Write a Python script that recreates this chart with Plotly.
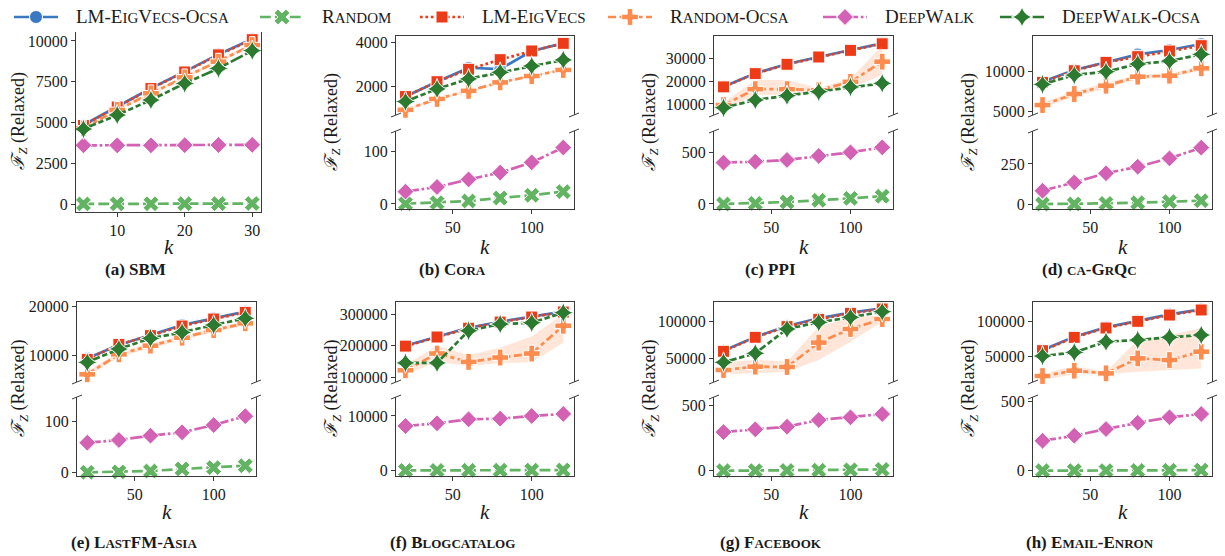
import plotly.graph_objects as go

PAGE_W, PAGE_H = 1225, 556
OFF = 8                      # browser body margin
W, H = PAGE_W - OFF, PAGE_H - OFF
FONT = "Liberation Serif"

# ---------------- data ----------------
K_SBM = [5, 10, 15, 20, 25, 30]
K_REAL = [20, 40, 60, 80, 100, 120]

SERIES = ["LM-EigVecs-Ocsa", "Random", "LM-EigVecs", "Random-Ocsa", "DeepWalk", "DeepWalk-Ocsa"]

SBM = dict(
    lmo=[4850, 5970, 7100, 8120, 9180, 10120],
    rnd=[5, 10, 15, 20, 25, 30],
    lm=[4820, 5950, 7080, 8100, 9150, 10080],
    rndo=[4640, 5770, 6790, 7770, 8730, 9750],
    dw=[3600, 3600, 3600, 3610, 3620, 3630],
    dwo=[4600, 5460, 6380, 7400, 8320, 9410],
    lo=[4550, 5680, 6700, 7680, 8640, 9650],
    hi=[4730, 5860, 6880, 7860, 8820, 9850],
)
CORA = dict(
    lmo=[1530, 2210, 2850, 2790, 3620, 3970],
    rnd=[0.5, 2.5, 5.7, 11.5, 16.6, 23.6],
    lm=[1530, 2210, 2780, 3220, 3620, 3970],
    rndo=[920, 1420, 1790, 2180, 2470, 2750],
    dw=[23.6, 32.5, 47, 60, 79.6, 108],
    dwo=[1300, 1880, 2340, 2640, 2930, 3210],
    lo=[860, 1370, 1740, 2130, 2420, 2700],
    hi=[980, 1470, 1840, 2230, 2520, 2800],
)
PPI = dict(
    lmo=[17590, 23430, 27520, 30730, 33650, 36570],
    rnd=[0, 6, 19, 36, 55, 75],
    lm=[17500, 23300, 27400, 30600, 33500, 36400],
    rndo=[9560, 16500, 16500, 16060, 19700, 28540],
    dw=[403, 412, 429, 468, 503, 552],
    dwo=[8390, 11750, 13650, 15400, 17450, 19050],
    lo=[7400, 14000, 14000, 15000, 17000, 22700],
    hi=[10700, 20500, 20500, 17000, 21200, 35500],
)
GRQC = dict(
    lmo=[8750, 10210, 11170, 12170, 12710, 13460],
    rnd=[0, 0.5, 4, 8, 15, 21],
    lm=[8670, 10120, 11170, 11875, 12580, 13250],
    rndo=[5830, 7210, 8250, 9375, 9500, 10420],
    dw=[83, 135, 192, 233, 285, 352],
    dwo=[8420, 9580, 10000, 10960, 11330, 12170],
    lo=[5500, 6850, 7900, 9100, 9250, 10150],
    hi=[6150, 7550, 8600, 9650, 9750, 10700],
)
LASTFM = dict(
    lmo=[9310, 12070, 14140, 16210, 17590, 18970],
    rnd=[0, 0.7, 2.6, 6.6, 9.2, 13],
    lm=[9100, 12200, 14000, 16000, 17450, 18830],
    rndo=[6000, 10140, 11930, 13580, 15170, 16550],
    dw=[58.5, 63.8, 72.4, 79, 93.4, 111],
    dwo=[8480, 11240, 13450, 14690, 16210, 17590],
    lo=[5500, 9600, 11400, 13100, 14700, 16100],
    hi=[6600, 10600, 12400, 14000, 15600, 17000],
)
BLOG = dict(
    lmo=[200000, 228700, 257400, 276600, 292500, 308500],
    rnd=[40, 55, 70, 85, 100, 120],
    lm=[199000, 228000, 256000, 275500, 291500, 307500],
    rndo=[122300, 175500, 148900, 162800, 175500, 263800],
    dw=[8170, 8660, 9390, 9510, 10000, 10370],
    dwo=[145700, 145700, 247900, 269100, 273400, 305300],
    lo=[107000, 150000, 135000, 145000, 148000, 210000],
    hi=[140000, 200000, 170000, 195000, 230000, 300000],
)
FACEBOOK = dict(
    lmo=[60450, 79090, 94090, 104500, 112300, 118200],
    rnd=[0, 1, 2, 4, 7, 10],
    lm=[59550, 78640, 93200, 103200, 111400, 117300],
    rndo=[34100, 38640, 38200, 71400, 90000, 103600],
    dw=[294, 315, 335, 386, 406, 431],
    dwo=[44550, 56820, 90000, 99100, 105900, 113600],
    lo=[28600, 29500, 31800, 47700, 72700, 100000],
    hi=[44500, 47700, 45500, 93200, 105400, 109000],
)
ENRON = dict(
    lmo=[59500, 78570, 91900, 101400, 110500, 117600],
    rnd=[0, 1, 1, 2, 3, 4],
    lm=[58600, 77600, 91000, 100500, 109500, 116700],
    rndo=[22400, 30000, 26190, 47600, 45240, 57140],
    dw=[215, 251, 299, 344, 383, 407],
    dwo=[50950, 56190, 71430, 73800, 77620, 80950],
    lo=[16700, 24800, 24800, 28600, 31000, 33300],
    hi=[24800, 37140, 28600, 73800, 80950, 90500],
)

KEYS = ["lmo", "rnd", "lm", "rndo", "dw", "dwo"]
TOP_KEYS = ["lmo", "lm", "rndo", "dwo"]
BOT_KEYS = ["rnd", "dw"]

# ---------------- styles ----------------
LW = 2.7
def dash(*p):
    return ",".join(f"{v * LW:.1f}px" for v in p)

STYLE = {
    "lmo": dict(color="#3b78c4", mcolor="#7fa6da", dash="solid", symbol="circle", size=13),
    "rnd": dict(color="#62b462", mcolor="#62b462", dash=dash(4, 1.5), symbol="x", size=14),
    "lm": dict(color="#ee3b17", mcolor="#ee3b17", dash=dash(1, 1), symbol="square", size=12),
    "rndo": dict(color="#fd8c4e", mcolor="#fd8c4e", dash=dash(3, 1.25, 1.5, 1.25), symbol="cross", size=14),
    "dw": dict(color="#d462b4", mcolor="#d462b4", dash=dash(5, 1, 1, 1), symbol="diamond", size=13),
    "dwo": dict(color="#2b7a2f", mcolor="#2b7a2f", dash=dash(5, 1, 2, 1, 2, 1), symbol="star-diamond", size=15),
}
BAND = "rgba(253,140,78,0.22)"
SPINE = "#3a3a3a"
TICKFONT = dict(family=FONT, size=16, color="#1a1a1a")

# ---------------- geometry (page pixels) ----------------
PANELS = [
    dict(tag="(a)", title="SBM", data=SBM, k=K_SBM, x=(76, 261), xr=[3.9, 31.3], xt=[10, 20, 30],
         single=(31, 212), yr=[-490, 10613], yt=[0, 2500, 5000, 7500, 10000], row=0),
    dict(tag="(b)", title="Cora", data=CORA, k=K_REAL, x=(396, 574), xr=[14, 126.8], xt=[50, 100],
         top=(36, 115), bot=(131, 209), ytr=[683, 4307], ytt=[2000, 4000], ybr=[-9.6, 139.6], ybt=[0, 100], row=0),
    dict(tag="(c)", title="PPI", data=PPI, k=K_REAL, x=(714, 893), xr=[14, 126.8], xt=[50, 100],
         top=(36, 115), bot=(131, 209), ytr=[5175, 39800], ytt=[10000, 20000, 30000], ybr=[-49, 711], ybt=[0, 500], row=0),
    dict(tag="(d)", title="ca-GrQc", data=GRQC, k=K_REAL, x=(1033, 1212), xr=[14, 126.8], xt=[50, 100],
         top=(36, 115), bot=(131, 209), ytr=[4590, 14460], ytt=[5000, 10000], ybr=[-31, 456], ybt=[0, 250], row=0),
    dict(tag="(e)", title="LastFM-Asia", data=LASTFM, k=K_REAL, x=(77, 256), xr=[13.5, 126.8], xt=[50, 100],
         top=(302, 382), bot=(397, 476), ytr=[4410, 20973], ytt=[10000, 20000], ybr=[-7.3, 148.8], ybt=[0, 100], row=1),
    dict(tag="(f)", title="Blogcatalog", data=BLOG, k=K_REAL, x=(396, 574), xr=[14, 126.8], xt=[50, 100],
         top=(302, 382), bot=(397, 476), ytr=[85000, 339300], ytt=[100000, 200000, 300000], ybr=[-970, 13470], ybt=[0, 10000], row=1),
    dict(tag="(g)", title="Facebook", data=FACEBOOK, k=K_REAL, x=(714, 893), xr=[14, 126.8], xt=[50, 100],
         top=(302, 382), bot=(397, 476), ytr=[17700, 126800], ytt=[50000, 100000], ybr=[-40, 561], ybt=[0, 500], row=1),
    dict(tag="(h)", title="Email-Enron", data=ENRON, k=K_REAL, x=(1033, 1212), xr=[14, 126.8], xt=[50, 100],
         top=(302, 382), bot=(397, 476), ytr=[13870, 128100], ytt=[50000, 100000], ybr=[-38, 529], ybt=[0, 500], row=1),
]

def px(x):
    return (x - OFF) / W

def py(y):
    return 1 - (y - OFF) / H

def sc(word, small):
    out, run = "", ""
    for ch in word:
        if ch.islower():
            run += ch.upper()
        else:
            if run:
                out += f"<span style='font-size:{small}px'>{run}</span>"
                run = ""
            out += ch
    if run:
        out += f"<span style='font-size:{small}px'>{run}</span>"
    return out

fig = go.Figure()
layout = {}
shapes = []
annotations = []
ax_n = [0]

def new_axes():
    ax_n[0] += 1
    n = ax_n[0]
    s = "" if n == 1 else str(n)
    return n, f"x{s}", f"y{s}", f"xaxis{s}", f"yaxis{s}"

def add_series(xr, yr, k, d, key):
    st = STYLE[key]
    if key == "rndo":
        fig.add_trace(go.Scatter(x=list(k) + list(k)[::-1], y=d["hi"] + d["lo"][::-1], fill="toself",
                                 fillcolor=BAND, line=dict(width=0), mode="lines", xaxis=xr, yaxis=yr,
                                 showlegend=False, hoverinfo="skip"))
    fig.add_trace(go.Scatter(x=k, y=d[key], mode="lines+markers", xaxis=xr, yaxis=yr,
                             line=dict(color=st["color"], width=LW, dash=st["dash"]),
                             marker=dict(symbol=st["symbol"], size=st["size"], color=st["mcolor"],
                                         line=dict(color="white", width=1)),
                             cliponaxis=False, showlegend=False, hoverinfo="skip"))

def yaxis_cfg(dom, rng, tv, anchor):
    return dict(domain=dom, range=rng, tickvals=tv, tickformat="d", anchor=anchor,
                showline=True, linecolor=SPINE, linewidth=1, mirror=True,
                ticks="outside", ticklen=4, tickcolor=SPINE, showgrid=False, zeroline=False,
                tickfont=TICKFONT, automargin=False)

def break_marks(x, y):
    for xx in x:
        shapes.append(dict(type="line", xref="paper", yref="paper",
                           x0=px(xx - 5), y0=py(y + 2), x1=px(xx + 5), y1=py(y - 2),
                           line=dict(color=SPINE, width=1)))

for P in PANELS:
    x0, x1 = P["x"]
    xdom = [px(x0), px(x1)]
    k, d = P["k"], P["data"]
    if "single" in P:
        n, xr, yr, xk, yk = new_axes()
        ya, yb = P["single"]
        layout[xk] = dict(domain=xdom, range=P["xr"], tickvals=P["xt"], anchor=yr,
                          showline=True, linecolor=SPINE, linewidth=1, mirror=True,
                          ticks="outside", ticklen=4, tickcolor=SPINE, showgrid=False,
                          zeroline=False, tickfont=TICKFONT, automargin=False)
        layout[yk] = yaxis_cfg([py(yb), py(ya)], P["yr"], P["yt"], xr)
        for key in KEYS:
            add_series(xr, yr, k, d, key)
        ymid = (ya + yb) / 2
    else:
        n, xr, yr, xk, yk = new_axes()
        ta, tb = P["top"]
        layout[xk] = dict(domain=xdom, range=P["xr"], anchor=yr, side="top",
                          showline=True, linecolor=SPINE, linewidth=1, showticklabels=False,
                          ticks="", showgrid=False, zeroline=False, automargin=False)
        layout[yk] = yaxis_cfg([py(tb), py(ta)], P["ytr"], P["ytt"], xr)
        for key in TOP_KEYS:
            add_series(xr, yr, k, d, key)
        n, xr, yr, xk, yk = new_axes()
        ba, bb = P["bot"]
        layout[xk] = dict(domain=xdom, range=P["xr"], tickvals=P["xt"], anchor=yr,
                          showline=True, linecolor=SPINE, linewidth=1,
                          ticks="outside", ticklen=4, tickcolor=SPINE, showgrid=False,
                          zeroline=False, tickfont=TICKFONT, automargin=False)
        layout[yk] = yaxis_cfg([py(bb), py(ba)], P["ybr"], P["ybt"], xr)
        for key in BOT_KEYS:
            add_series(xr, yr, k, d, key)
        break_marks([x0, x1], tb)
        break_marks([x0, x1], ba)
        ymid = (ta + bb) / 2

    annotations.append(dict(xref="paper", yref="paper", x=px(max(x0 - 64, OFF + 11)), y=py(ymid),
                            text="<i>ℱ</i><sub><i>Z</i></sub> (Relaxed)", textangle=-90,
                            showarrow=False, xanchor="center", yanchor="middle",
                            font=dict(family=FONT, size=18, color="#1a1a1a")))
    krow = 247 if P["row"] == 0 else 512
    annotations.append(dict(xref="paper", yref="paper", x=px((x0 + x1) / 2), y=py(krow),
                            text="<i>k</i>", showarrow=False, xanchor="center", yanchor="middle",
                            font=dict(family=FONT, size=21, color="#1a1a1a")))
    trow = 269 if P["row"] == 0 else 542
    annotations.append(dict(xref="paper", yref="paper", x=px((x0 + x1) / 2 - 33), y=py(trow),
                            text=f"<b>{P['tag']} {sc(P['title'], 13)}</b>", showarrow=False,
                            xanchor="center", yanchor="middle",
                            font=dict(family=FONT, size=17, color="#1a1a1a")))

# ---------------- legend (manual strip) ----------------
n, xr, yr, xk, yk = new_axes()
layout[xk] = dict(domain=[0, 1], range=[OFF, OFF + W], anchor=yr, visible=False, fixedrange=True)
layout[yk] = dict(domain=[py(32), 1], range=[32, OFF], anchor=xr, visible=False, fixedrange=True)
LEG_X = [14, 260, 420, 608, 823, 1000]
LEG_Y = 17
for key, name, sx in zip(KEYS, SERIES, LEG_X):
    st = STYLE[key]
    fig.add_trace(go.Scatter(x=[sx, sx + 44], y=[LEG_Y, LEG_Y], mode="lines", xaxis=xr, yaxis=yr,
                             line=dict(color=st["color"], width=LW, dash=st["dash"]),
                             showlegend=False, hoverinfo="skip", cliponaxis=False))
    fig.add_trace(go.Scatter(x=[sx + 22], y=[LEG_Y], mode="markers", xaxis=xr, yaxis=yr,
                             marker=dict(symbol=st["symbol"], size=st["size"], color=st["color"],
                                         line=dict(color="white", width=1)),
                             showlegend=False, hoverinfo="skip", cliponaxis=False))
    annotations.append(dict(xref="paper", yref="paper", x=px(sx + 60), y=py(LEG_Y),
                            text=sc(name, 15), showarrow=False, xanchor="left", yanchor="middle",
                            font=dict(family=FONT, size=19, color="#1a1a1a")))

fig.update_layout(**layout)
fig.update_layout(width=W, height=H, margin=dict(l=0, r=0, t=0, b=0),
                  paper_bgcolor="white", plot_bgcolor="white",
                  shapes=shapes, annotations=annotations, showlegend=False,
                  font=dict(family=FONT))
fig.write_html("out.html")
